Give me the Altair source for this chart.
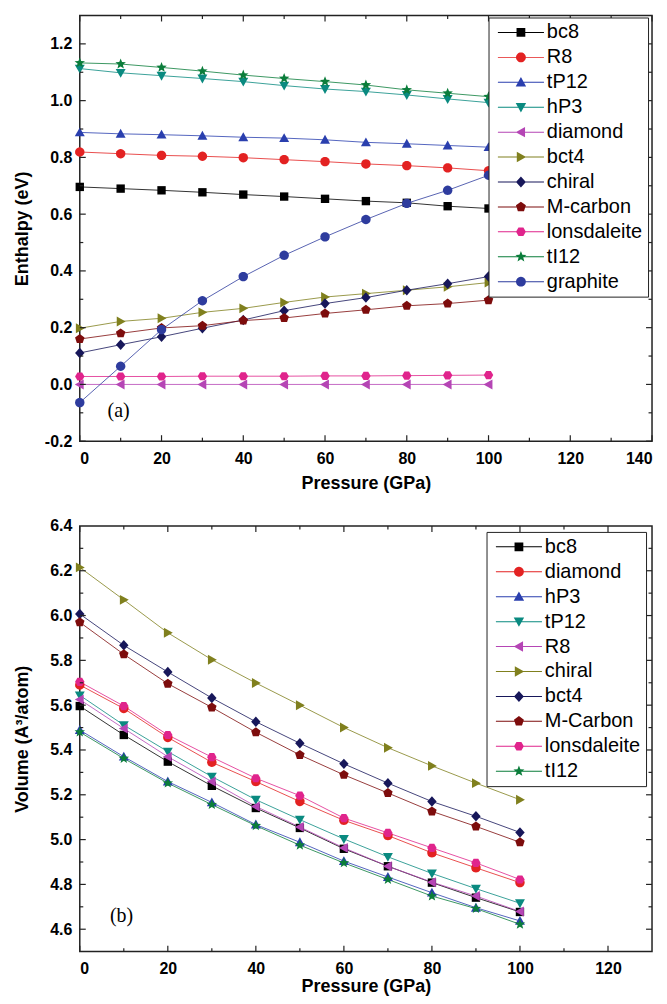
import math
import altair as alt
import pandas as pd

# ---------------- data ----------------
pressure = [0, 10, 20, 30, 40, 50, 60, 70, 80, 90, 100]

# (a) Enthalpy (eV)
enth_names = ["bc8", "R8", "tP12", "hP3", "diamond", "bct4", "chiral",
              "M-carbon", "lonsdaleite", "tI12", "graphite"]
enth_bc8 = [0.696, 0.690, 0.684, 0.677, 0.669, 0.662, 0.654, 0.646, 0.640, 0.628, 0.620]
enth_R8 = [0.819, 0.813, 0.807, 0.804, 0.799, 0.792, 0.785, 0.777, 0.771, 0.763, 0.753]
enth_tP12 = [0.888, 0.883, 0.880, 0.876, 0.871, 0.868, 0.862, 0.853, 0.848, 0.842, 0.836]
enth_hP3 = [1.113, 1.098, 1.088, 1.078, 1.067, 1.053, 1.041, 1.032, 1.020, 1.006, 0.993]
enth_diamond = [0.0, 0.0, 0.0, 0.0, 0.0, 0.0, 0.0, 0.0, 0.0, 0.0, 0.0]
enth_bct4 = [0.198, 0.222, 0.233, 0.254, 0.268, 0.289, 0.308, 0.320, 0.332, 0.344, 0.359]
enth_chiral = [0.111, 0.140, 0.168, 0.198, 0.227, 0.260, 0.285, 0.306, 0.332, 0.355, 0.380]
enth_Mcarbon = [0.160, 0.180, 0.199, 0.207, 0.225, 0.234, 0.250, 0.263, 0.277, 0.285, 0.297]
enth_lonsdaleite = [0.028, 0.028, 0.028, 0.029, 0.029, 0.029, 0.030, 0.030, 0.031, 0.032, 0.033]
enth_tI12 = [1.133, 1.129, 1.117, 1.104, 1.090, 1.078, 1.067, 1.055, 1.038, 1.026, 1.014]
enth_graphite = [-0.064, 0.064, 0.193, 0.295, 0.380, 0.455, 0.520, 0.581, 0.638, 0.684, 0.737]
enth_values = [enth_bc8, enth_R8, enth_tP12, enth_hP3, enth_diamond, enth_bct4, enth_chiral,
               enth_Mcarbon, enth_lonsdaleite, enth_tI12, enth_graphite]

# (b) Volume (A^3/atom)
vol_names = ["bc8", "diamond", "hP3", "tP12", "R8", "chiral", "bct4",
             "M-Carbon", "lonsdaleite", "tI12"]
vol_bc8 = [5.596, 5.467, 5.348, 5.240, 5.141, 5.052, 4.959, 4.881, 4.808, 4.741, 4.677]
vol_diamond = [5.690, 5.585, 5.456, 5.345, 5.259, 5.170, 5.086, 5.018, 4.941, 4.874, 4.808]
vol_hP3 = [5.489, 5.370, 5.259, 5.166, 5.067, 4.988, 4.904, 4.833, 4.763, 4.696, 4.637]
vol_tP12 = [5.644, 5.511, 5.393, 5.281, 5.178, 5.089, 5.003, 4.923, 4.849, 4.781, 4.716]
vol_R8 = [5.625, 5.496, 5.370, 5.259, 5.148, 5.056, 4.963, 4.881, 4.810, 4.748, 4.679]
vol_chiral = [6.215, 6.070, 5.923, 5.803, 5.699, 5.600, 5.500, 5.410, 5.329, 5.252, 5.178]
vol_bct4 = [6.007, 5.867, 5.748, 5.632, 5.526, 5.430, 5.338, 5.252, 5.170, 5.104, 5.032]
vol_Mcarbon = [5.970, 5.827, 5.696, 5.590, 5.479, 5.378, 5.289, 5.208, 5.126, 5.059, 4.988]
vol_lonsdaleite = [5.704, 5.596, 5.467, 5.368, 5.274, 5.196, 5.096, 5.030, 4.963, 4.896, 4.822]
vol_tI12 = [5.480, 5.362, 5.252, 5.156, 5.062, 4.975, 4.896, 4.822, 4.748, 4.692, 4.622]
vol_values = [vol_bc8, vol_diamond, vol_hP3, vol_tP12, vol_R8, vol_chiral, vol_bct4,
              vol_Mcarbon, vol_lonsdaleite, vol_tI12]

# axis ticks (major = labelled, minor = unlabelled)
xa_major = [0, 20, 40, 60, 80, 100, 120, 140]
xa_minor = [10, 30, 50, 70, 90, 110, 130]
ya_major = [-0.2, 0.0, 0.2, 0.4, 0.6, 0.8, 1.0, 1.2]
ya_minor = [-0.1, 0.1, 0.3, 0.5, 0.7, 0.9, 1.1]
xb_major = [0, 20, 40, 60, 80, 100, 120]
xb_minor = [10, 30, 50, 70, 90, 110]
yb_major = [4.6, 4.8, 5.0, 5.2, 5.4, 5.6, 5.8, 6.0, 6.2]
yb_minor = [4.7, 4.9, 5.1, 5.3, 5.5, 5.7, 5.9, 6.1, 6.3]
yb_labels = [4.6, 4.8, 5.0, 5.2, 5.4, 5.6, 5.8, 6.0, 6.2, 6.4]

# Origin-like default palette (in series order)
palette = ["#000000", "#e32222", "#2a3fae", "#0a8a80", "#b545b5", "#80801e",
           "#17175a", "#7d0c0c", "#e0248c", "#0b7d3b", "#2e3c9e"]

# ---------------- marker shapes ----------------
def poly(pts):
    a = sum(x1 * y2 - x2 * y1 for (x1, y1), (x2, y2) in zip(pts, pts[1:] + pts[:1]))
    if a < 0:
        pts = pts[::-1]
    return "M" + "L".join(f"{x:.3f},{y:.3f}" for x, y in pts) + "Z"

def regular(n, r, start):
    return [(r * math.cos(math.radians(start + 360 * k / n)),
             r * math.sin(math.radians(start + 360 * k / n))) for k in range(n)]

def star(ro, ri):
    pts = []
    for k in range(10):
        ang = math.radians(-90 + 36 * k)
        r = ro if k % 2 == 0 else ri
        pts.append((r * math.cos(ang), r * math.sin(ang)))
    return pts

shape_pts = [
    [(-0.8, -0.8), (0.8, -0.8), (0.8, 0.8), (-0.8, 0.8)],          # square
    regular(24, 0.9, 0),                                           # circle
    [(0, -0.95), (0.95, 0.75), (-0.95, 0.75)],                      # up
    [(0, 0.95), (0.95, -0.75), (-0.95, -0.75)],                     # down
    [(-0.95, 0), (0.75, -0.95), (0.75, 0.95)],                      # left
    [(0.95, 0), (-0.75, -0.95), (-0.75, 0.95)],                     # right
    [(0, -1.0), (0.9, 0), (0, 1.0), (-0.9, 0)],                     # diamond
    regular(5, 0.95, -90),                                         # pentagon
    regular(6, 0.9, 0),                                            # hexagon
    star(1.05, 0.45),                                              # star
    regular(24, 0.9, 0),                                           # sphere
]
shape_paths = [poly(p) for p in shape_pts]
line_seg = poly([(-4.2, -0.09), (4.2, -0.09), (4.2, 0.09), (-4.2, 0.09)])
legend_paths = [s + line_seg for s in shape_paths]

FONT = "Liberation Sans"
W, H = 574, 427
TICK = "#222"
YLABEL = "datum.value < 0 ? '-' + format(-datum.value, '.1f') : format(datum.value, '.1f')"


def panel(names, values, x_dom, x_major, x_minor, y_dom, y_labels, y_major, y_minor,
          y_title, legend_x, legend_y, tag, tag_x, tag_y, title_y):
    n = len(names)
    rows = [{"series": nm, "P": p, "v": v}
            for nm, vals in zip(names, values) for p, v in zip(pressure, vals)]
    df = pd.DataFrame(rows)
    xs = alt.Scale(domain=x_dom, nice=False, zero=False)
    ys = alt.Scale(domain=y_dom, nice=False, zero=False)
    cscale = alt.Scale(domain=names, range=palette[:n])

    base = alt.Chart(df)
    lines = base.mark_line(strokeWidth=1, opacity=0.8).encode(
        x=alt.X("P:Q", scale=xs, axis=alt.Axis(
            orient="bottom", values=x_major, ticks=False, labelPadding=9,
            title="Pressure (GPa)", titleY=title_y, titleBaseline="middle")),
        y=alt.Y("v:Q", scale=ys, axis=alt.Axis(
            orient="left", values=y_labels, labelExpr=YLABEL, ticks=False, labelPadding=8,
            title=y_title, titleX=-57, titleBaseline="middle")),
        color=alt.Color("series:N", scale=cscale, legend=None),
        detail="series:N",
    )
    points = base.mark_point(filled=True, opacity=1, size=110).encode(
        x=alt.X("P:Q", scale=xs, axis=None),
        y=alt.Y("v:Q", scale=ys, axis=None),
        color=alt.Color("series:N", scale=cscale, legend=None),
        shape=alt.Shape("series:N", scale=alt.Scale(domain=names, range=shape_paths[:n]),
                        legend=None),
    )
    leg = base.transform_filter("false").mark_point(filled=True, opacity=1, size=110).encode(
        x=alt.X("P:Q", scale=xs, axis=None),
        y=alt.Y("v:Q", scale=ys, axis=None),
        color=alt.Color("series:N", scale=cscale, legend=alt.Legend(
            orient="none", legendX=legend_x, legendY=legend_y, title=None,
            strokeColor="#222", fillColor="white", padding=5,
            symbolSize=121, symbolOffset=17.5, labelOffset=16,
            labelFont=FONT, labelFontSize=20, labelColor="black",
            rowPadding=5, symbolStrokeWidth=0)),
        shape=alt.Shape("series:N", scale=alt.Scale(domain=names, range=legend_paths[:n])),
    )

    # inward-pointing ticks on all four sides, drawn from the tick values
    def xticks(vals, length):
        c = alt.Chart(pd.DataFrame({"t": vals})).mark_rule(color=TICK, strokeWidth=1.2)
        xe = alt.X("t:Q", scale=xs, axis=None)
        return [c.encode(x=xe, y=alt.value(H), y2=alt.value(H - length)),
                c.encode(x=xe, y=alt.value(0), y2=alt.value(length))]

    def yticks(vals, length):
        c = alt.Chart(pd.DataFrame({"t": vals})).mark_rule(color=TICK, strokeWidth=1.2)
        ye = alt.Y("t:Q", scale=ys, axis=None)
        return [c.encode(y=ye, x=alt.value(0), x2=alt.value(length)),
                c.encode(y=ye, x=alt.value(W), x2=alt.value(W - length))]

    ticks = xticks(x_major, 6) + xticks(x_minor, 3.5) + yticks(y_major, 6) + yticks(y_minor, 3.5)

    tag_df = pd.DataFrame({"P": [tag_x], "v": [tag_y], "t": [tag]})
    text = alt.Chart(tag_df).mark_text(
        font="Liberation Serif", fontSize=20, color="black").encode(
        x=alt.X("P:Q", scale=xs, axis=None),
        y=alt.Y("v:Q", scale=ys, axis=None),
        text="t:N",
    )
    return alt.layer(lines, points, leg, *ticks, text).resolve_scale(
        color="independent", shape="independent"
    ).resolve_axis(x="independent", y="independent").resolve_legend(
        color="independent", shape="independent"
    ).properties(width=W, height=H)


top = panel(enth_names, enth_values, [0, 140], xa_major, xa_minor, [-0.2, 1.3],
            ya_major, ya_major, ya_minor, "Enthalpy (eV)", 410, 2, "(a)", 9.5, -0.095, 42)
bottom = panel(vol_names, vol_values, [0, 130], xb_major, xb_minor, [4.5, 6.4],
               yb_labels, yb_major, yb_minor, "Volume (A³/atom)", 408, 6, "(b)", 9.5, 4.658, 35)

chart = alt.vconcat(top, bottom, spacing=24).configure(
    padding={"left": 5, "top": 4, "right": 5, "bottom": 0}
).configure_view(stroke="#222", strokeWidth=1.5).configure_axis(
    labelFont=FONT, labelFontSize=16, labelFontWeight="bold", labelColor="black",
    titleFont=FONT, titleFontSize=18, titleFontWeight="bold", titleColor="black",
    grid=False, domain=False
)

chart.save("out.html", embed_options={"renderer": "svg", "actions": False})
